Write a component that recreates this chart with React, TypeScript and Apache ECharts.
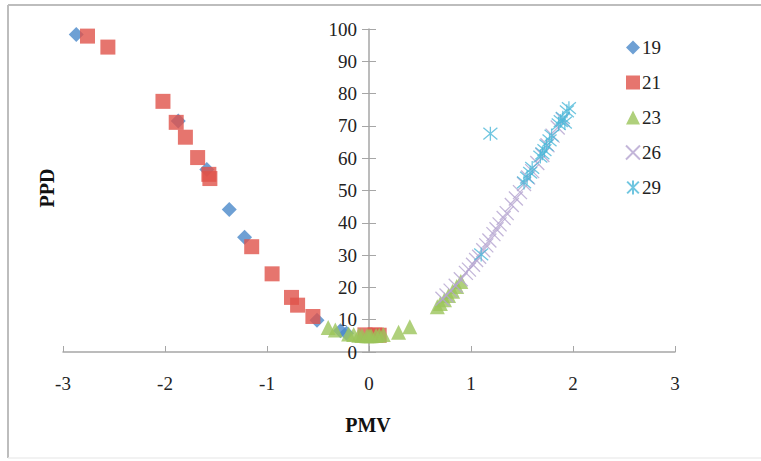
import React, { useEffect, useRef } from "react";
import * as echarts from "echarts";

const seriesNames = ["19", "21", "23", "26", "29"];

const pmv19 = [-2.87, -1.87, -1.59, -1.37, -1.22, -0.51, -0.28, -0.22];
const ppd19 = [98.3, 71.5, 56.5, 44.1, 35.5, 9.8, 6.6, 5.8];

const pmv21 = [-2.76, -2.56, -2.02, -1.89, -1.8, -1.68, -1.57, -1.56, -1.15, -0.95, -0.76, -0.7, -0.55, -0.04, 0.06, 0.1];
const ppd21 = [97.8, 94.4, 77.6, 71.1, 66.5, 60.2, 55.0, 53.7, 32.6, 24.2, 16.9, 14.5, 11.0, 5.3, 5.3, 5.2];

const pmv23 = [-0.4, -0.33, -0.2, -0.15, -0.1, -0.07, -0.02, 0.0, 0.02, 0.07, 0.1, 0.14, 0.29, 0.4, 0.67, 0.7, 0.74, 0.78, 0.82, 0.86, 0.9];
const ppd23 = [7.6, 6.8, 5.6, 5.4, 5.2, 5.1, 5.0, 5.0, 5.0, 5.1, 5.2, 5.4, 6.1, 7.8, 14.0, 15.0, 16.2, 17.5, 18.8, 20.3, 21.8];

const pmv26 = [0.72, 0.76, 0.8, 0.85, 0.9, 0.95, 0.98, 1.02, 1.05, 1.08, 1.12, 1.15, 1.18, 1.22, 1.25, 1.28, 1.32, 1.35, 1.4, 1.44, 1.48, 1.52, 1.56, 1.6, 1.65, 1.7, 1.75, 1.8, 1.85, 1.9];
const ppd26 = [16.5, 17.5, 19.0, 20.5, 22.5, 24.5, 25.5, 27.0, 28.5, 29.5, 31.5, 33.0, 34.5, 36.5, 38.0, 39.5, 41.5, 43.0, 45.5, 47.5, 49.5, 52.0, 54.0, 56.0, 58.5, 61.0, 64.0, 67.0, 69.5, 72.0];

const pmv29 = [1.1, 1.19, 1.52, 1.55, 1.58, 1.6, 1.68, 1.7, 1.72, 1.74, 1.77, 1.79, 1.86, 1.88, 1.9, 1.92, 1.94, 1.96];
const ppd29 = [30.2, 67.6, 52.5, 54.0, 55.5, 57.0, 60.5, 61.5, 62.5, 64.0, 65.5, 67.0, 70.5, 71.5, 72.5, 71.0, 74.5, 75.5];

const colors = ["#4A88C9", "#E0524A", "#9BC45A", "#B4A4CF", "#4CB8D8"];

const zip = (xs: number[], ys: number[]) => xs.map((x, i) => [x, ys[i]]);

const FONT = "'Liberation Serif', 'Times New Roman', serif";

const GRID_LEFT = 63;
const GRID_RIGHT = 86;
const X_MIN = -3;
const X_MAX = 3;

export default function App() {
  const ref = useRef<HTMLDivElement>(null);
  useEffect(() => {
    if (!ref.current) return;
    const chart = echarts.init(ref.current, undefined, { renderer: "svg" });
    const axisColor = "#A6A6A6";
    const labelStyle = { color: "#222", fontFamily: FONT, fontSize: 19 };
    const gridWidth = 761 - GRID_LEFT - GRID_RIGHT;
    const yOffset = -gridWidth * ((0 - X_MIN) / (X_MAX - X_MIN));
    chart.setOption({
      animation: false,
      backgroundColor: "#fff",
      color: colors,
      textStyle: { fontFamily: FONT },
      grid: { left: GRID_LEFT, right: GRID_RIGHT, top: 29, bottom: 109, containLabel: false },
      legend: {
        orient: "vertical",
        left: 620,
        top: 33,
        itemWidth: 14,
        itemHeight: 14,
        itemGap: 16,
        textStyle: { color: "#222", fontFamily: FONT, fontSize: 19, padding: [0, 0, 0, -3] },
        data: seriesNames,
      },
      xAxis: {
        type: "value",
        min: X_MIN,
        max: X_MAX,
        interval: 1,
        axisLine: { show: true, onZero: false, lineStyle: { color: axisColor, width: 1.5 } },
        axisTick: { show: true, inside: true, length: 6, lineStyle: { color: axisColor } },
        axisLabel: { ...labelStyle, margin: 22 },
        splitLine: { show: false },
      },
      yAxis: [
        {
          type: "value",
          min: 0,
          max: 100,
          interval: 10,
          position: "left",
          offset: yOffset,
          axisLine: { show: true, onZero: false, lineStyle: { color: axisColor, width: 1.5 } },
          axisTick: { show: true, length: 7, lineStyle: { color: axisColor } },
          axisLabel: { ...labelStyle, margin: 12 },
          splitLine: { show: false },
        },
        {
          type: "value",
          min: 0,
          max: 100,
          interval: 10,
          position: "left",
          offset: yOffset,
          axisLine: { show: false, onZero: false },
          axisTick: { show: true, inside: true, length: 7, lineStyle: { color: axisColor } },
          axisLabel: { show: false },
          splitLine: { show: false },
        },
      ],
      graphic: [
        { type: "line", shape: { x1: 8, y1: 5, x2: 761, y2: 5 }, style: { stroke: "#BDBDBD", lineWidth: 2 } },
        { type: "line", shape: { x1: 8, y1: 5, x2: 8, y2: 458 }, style: { stroke: "#BDBDBD", lineWidth: 2 } },
        { type: "line", shape: { x1: 8, y1: 458, x2: 761, y2: 458 }, style: { stroke: "#EEEEEE", lineWidth: 1.5 } },
        {
          type: "text",
          x: 368,
          y: 425,
          style: { text: "PMV", fill: "#111", font: `bold 20px ${FONT}`, align: "center", verticalAlign: "middle" },
        },
        {
          type: "text",
          x: 47,
          y: 188,
          rotation: Math.PI / 2,
          style: { text: "PPD", fill: "#111", font: `bold 20px ${FONT}`, align: "center", verticalAlign: "middle" },
        },
      ],
      series: [
        { name: "19", type: "scatter", symbol: "diamond", symbolSize: 15, data: zip(pmv19, ppd19), itemStyle: { color: colors[0] } },
        { name: "21", type: "scatter", symbol: "rect", symbolSize: 15, data: zip(pmv21, ppd21), itemStyle: { color: colors[1] } },
        { name: "23", type: "scatter", symbol: "triangle", symbolSize: 15, data: zip(pmv23, ppd23), itemStyle: { color: colors[2] } },
        {
          name: "26",
          type: "scatter",
          symbol: "path://M0,0L10,10M10,0L0,10",
          symbolSize: 14,
          data: zip(pmv26, ppd26),
          itemStyle: { color: "rgba(0,0,0,0)", borderColor: colors[3], borderWidth: 1.3 },
        },
        {
          name: "29",
          type: "scatter",
          symbol: "path://M0,0L10,10M10,0L0,10M5,-1L5,11",
          symbolSize: 14,
          data: zip(pmv29, ppd29),
          itemStyle: { color: "rgba(0,0,0,0)", borderColor: colors[4], borderWidth: 1.3 },
        },
      ],
    });
    return () => chart.dispose();
  }, []);
  return <div ref={ref} style={{ position: "absolute", left: 0, top: 0, width: 761, height: 461 }} />;
}
